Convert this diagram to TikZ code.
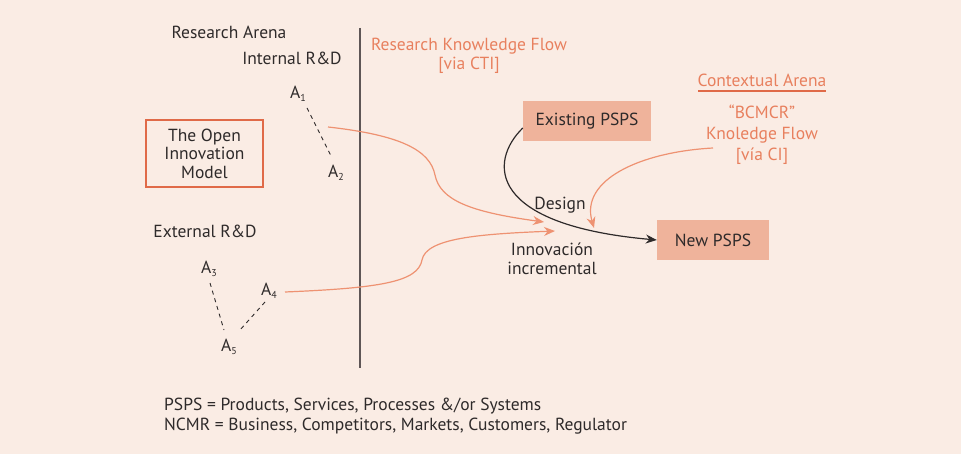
\documentclass[tikz,border=0pt]{standalone}
\usepackage{fontspec}
\setmainfont{PT Sans}
\usetikzlibrary{arrows.meta}
\definecolor{bg}{HTML}{FAECE4}
\definecolor{orTxt}{HTML}{E8805E}
\definecolor{orLine}{HTML}{EE9272}
\definecolor{boxFill}{HTML}{EFB39B}
\definecolor{boxEdge}{HTML}{E06A48}
\definecolor{txt}{HTML}{2E2A2A}
\definecolor{vline}{HTML}{5E5656}
\newcommand{\subsc}[1]{\raisebox{-3pt}{\fontsize{10}{10}\selectfont #1}}
\tikzset{
  lbl/.style={font=\fontsize{17.5}{19.5}\selectfont, text=txt, inner sep=0pt, align=center},
  olbl/.style={lbl, text=orTxt},
  pbox/.style={lbl, fill=boxFill, minimum height=40pt},
  anode/.style={lbl},
  dashln/.style={draw=txt, dashed, dash pattern=on 4pt off 4pt, line width=0.9pt},
  oflow/.style={draw=orLine, line width=1.2pt, -{Stealth[length=11pt,width=9pt,fill=orLine]}},
  bflow/.style={draw=txt, line width=1.2pt, -{Stealth[length=11pt,width=9pt]}}
}
\begin{document}
\begin{tikzpicture}[x=1pt,y=-1pt]
\fill[bg] (0,0) rectangle (961,454);
\useasboundingbox (0,0) rectangle (961,454);
% vertical divider
\draw[vline, line width=1.4pt] (360,28) -- (360,368);
% labels
\node[lbl] (ra) at (229,32) {Research Arena};
\node[lbl] (ird) at (292,58) {Internal R\&D};
\node[olbl] (rkf) at (469,56) {Research Knowledge Flow\\[-0.5pt][via CTI]};
\node[olbl] (ca) at (762,80) {Contextual Arena};
\draw[boxEdge, line width=2pt] (698,91) -- (826,91);
\node[olbl] (bc) at (762,135) {“BCMCR”\\[1.5pt]Knoledge Flow\\[1.5pt][vía CI]};
\node[lbl, draw=boxEdge, line width=1.3pt, minimum width=117pt, minimum height=67pt] (oim) at (204.5,153.5) {The Open\\[-1pt]Innovation\\[-1pt]Model};
\node[pbox, minimum width=128pt] (ex) at (587,121) {Existing PSPS};
\node[pbox, minimum width=112pt] (np) at (713,240) {New PSPS};
\node[lbl] (des) at (560,205) {Design};
\node[lbl] (inc) at (552,259) {Innovación\\[-1pt]incremental};
\node[lbl] (erd) at (205,231) {External R\&D};
% actors
\node[anode] (a1) at (298,94) {A\subsc{1}};
\node[anode] (a2) at (336,173) {A\subsc{2}};
\node[anode] (a3) at (209,269) {A\subsc{3}};
\node[anode] (a4) at (269,291) {A\subsc{4}};
\node[anode] (a5) at (229,347) {A\subsc{5}};
\draw[dashln] (307,108) -- (332,158);
\draw[dashln] (210,283) -- (224,330);
\draw[dashln] (265,302) -- (240,330);
% flows
\coordinate (r1s) at (328,127);
\coordinate (r1e) at (544,222);
\draw[oflow] (r1s) .. controls (400,135) and (430,150) .. (435,175)
  .. controls (440,200) and (470,212) .. (r1e);
\coordinate (r2s) at (285,292);
\coordinate (r2e) at (555,231);
\draw[oflow] (r2s) .. controls (380,288) and (418,282) .. (422,260)
  .. controls (426,238) and (480,234) .. (r2e);
\coordinate (r3s) at (713,148);
\coordinate (r3e) at (594,228);
\draw[oflow] (r3s) .. controls (640,152) and (580,180) .. (r3e);
\draw[bflow] (ex.west |- 128,128) .. controls (488,162) and (488,225) .. (np.west);
% legend
\node[lbl, align=left, anchor=north west] (leg) at (164,398) {PSPS = Products, Services, Processes \&/or Systems\\NCMR = Business, Competitors, Markets, Customers, Regulator};
\end{tikzpicture}
\end{document}
